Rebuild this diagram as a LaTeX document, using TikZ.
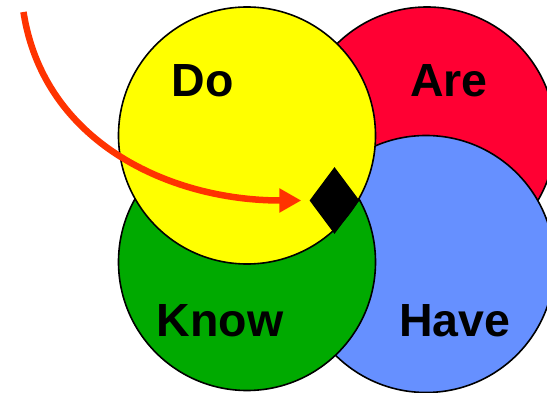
\documentclass[tikz,border=0pt]{standalone}
\usepackage{fontspec}
\setmainfont{Liberation Sans}
\usetikzlibrary{shapes, arrows.meta, positioning, calc}

\definecolor{areRed}{RGB}{255,0,51}
\definecolor{doYellow}{RGB}{255,255,0}
\definecolor{knowGreen}{RGB}{0,170,0}
\definecolor{haveBlue}{RGB}{102,144,255}
\definecolor{arrowRed}{RGB}{255,51,0}

\begin{document}
\begin{tikzpicture}[x=1pt,y=-1pt,>={Triangle[length=22pt,width=23pt]},
    ring/.style={draw, circle, line width=1.6pt, minimum size=257pt, inner sep=0pt},
    word/.style={font=\fontsize{46.5}{52}\selectfont\bfseries, inner sep=0pt}]
    \useasboundingbox (0,0) rectangle (547,393);
    \clip (0,0) rectangle (547,393);

    \node[ring, fill=areRed] (Are) at (427,135.5) {};
    \node[ring, fill=haveBlue] (Have) at (426,264) {};
    \node[ring, fill=knowGreen] (Know) at (247,262) {};
    \node[ring, fill=doYellow] (Do) at (247,135.5) {};

    \node[word] (DoText) at (202.5,81) {Do};
    \node[word] (AreText) at (449,81) {Are};
    \node[word] (KnowText) at (220,320.6) {Know};
    \node[word] (HaveText) at (455,320.6) {Have};

    \node[diamond, fill=black, minimum width=50pt, minimum height=67pt, inner sep=0pt] (Dia) at (334.5,200.5) {};

    \coordinate (Start) at (23.5,12);
    \draw[->, arrowRed, line width=6.5pt, shorten >=8pt]
      (Start) .. controls +(20,130) and +(-140,0) .. (Dia.west);
  \end{tikzpicture}
\end{document}
